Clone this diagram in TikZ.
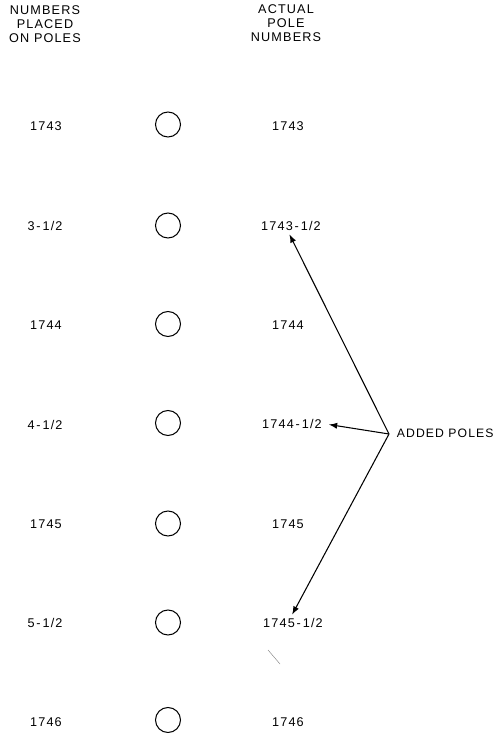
\documentclass[tikz,border=0pt]{standalone}
\usepackage{fontspec}
\setmainfont[LetterSpace=9]{Liberation Sans}
\usepackage{tikz}
\newcommand{\hy}{\kern1.1pt-\kern1.1pt}
\tikzset{
  lab/.style={font=\fontsize{7.2}{8}\selectfont, inner sep=2pt},
  head/.style={lab, align=center, font=\fontsize{7.2}{8.05}\selectfont},
  pole/.style={draw, circle, minimum size=.5cm, inner sep=0pt, line width=.6pt},
  arr/.style={-latex, line width=.6pt}
}
\begin{document}
\begin{tikzpicture}
\useasboundingbox (0,0) rectangle (10.02,14.66);

\node[head] (hleft) at (.9,14.18) {NUMBERS\\PLACED\\ON POLES};
\node[head] (hright) at (5.72,14.2) {ACTUAL\\POLE\\NUMBERS};

\node[lab] (l1) at (.92,12.13) {1743};
\node[lab] (l2) at (.9,10.14) {3\hy 1/2};
\node[lab] (l3) at (.92,8.15) {1744};
\node[lab] (l4) at (.9,6.16) {4\hy 1/2};
\node[lab] (l5) at (.92,4.17) {1745};
\node[lab] (l6) at (.9,2.2) {5\hy 1/2};
\node[lab] (l7) at (.92,.22) {1746};

\node[pole] (c1) at (3.36,12.17) {};
\node[pole] (c2) at (3.36,10.15) {};
\node[pole] (c3) at (3.36,8.18) {};
\node[pole] (c4) at (3.36,6.2) {};
\node[pole] (c5) at (3.36,4.19) {};
\node[pole] (c6) at (3.36,2.21) {};
\node[pole] (c7) at (3.36,.26) {};

\node[lab] (r1) at (5.76,12.14) {1743};
\node[lab] (r2) at (5.82,10.14) {1743\hy 1/2};
\node[lab] (r3) at (5.76,8.16) {1744};
\node[lab] (r4) at (5.84,6.18) {1744\hy 1/2};
\node[lab] (r5) at (5.76,4.18) {1745};
\node[lab] (r6) at (5.86,2.2) {1745\hy 1/2};
\node[lab] (r7) at (5.76,.22) {1746};

\node[lab, anchor=west, font=\fontsize{6.95}{8}\selectfont] (added) at (7.86,6.0) {ADDED POLES};
\coordinate (fork) at (7.78,5.98);

\draw[arr] (fork)--(r2.-100);
\draw[arr, shorten >=2pt] (fork)--(r4.east);
\draw[arr] (fork)--(r6.95);

\coordinate (m1) at (5.36,1.66);
\coordinate (m2) at (5.6,1.38);
\draw[black!50, line width=.25pt] (m1)--(m2);

\end{tikzpicture}
\end{document}
